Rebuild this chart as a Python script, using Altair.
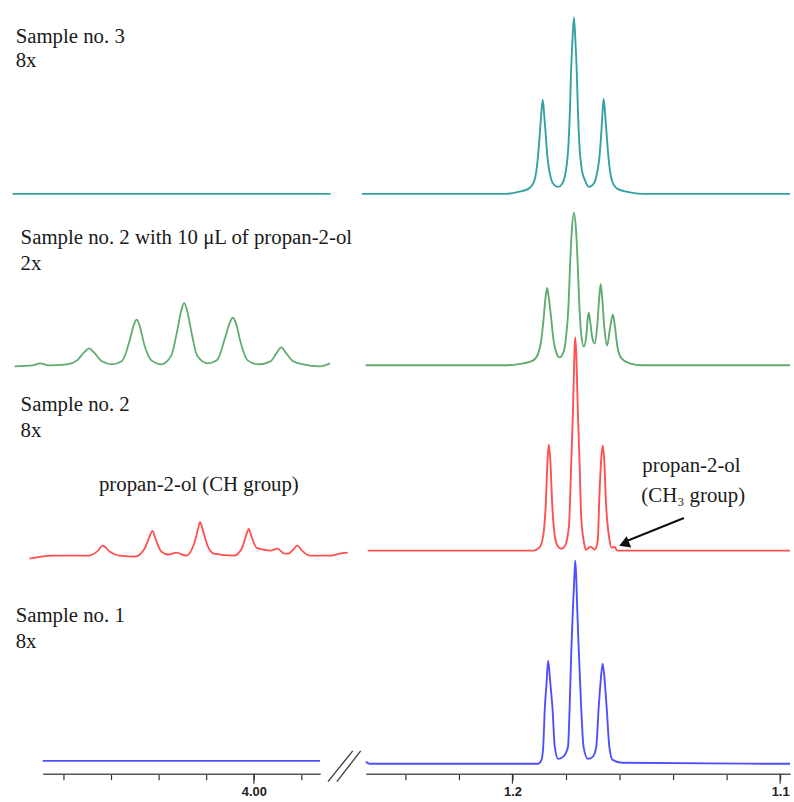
import altair as alt
import pandas as pd

# ---------------- axes (chemical shift, ppm) ----------------
left_domain = [4.0443, 3.9861]
right_domain = [1.2548, 1.0963]
left_ticks = [4.04, 4.03, 4.02, 4.01, 4.00, 3.99]
right_ticks = [1.24, 1.22, 1.20, 1.18, 1.16, 1.14, 1.12, 1.10]
left_major = [4.00]
right_major = [1.20, 1.10]
y_domain = [0, 777]

traces = ["Sample no. 3", "Sample no. 2 + propan-2-ol", "Sample no. 2", "Sample no. 1"]
colors = ["#35a2a2", "#5fab70", "#ff4f4f", "#4f4fff"]
offset_left = [585, 412, 220, 13]
offset_right = [585, 412, 225, 10]

# ---------------- spectra: left window (CH region ~4.0 ppm) ----------------
s3_left_ppm = [4.0506, 3.9839]
s3_left_int = [0, 0]

s2p_left_ppm = [4.05017, 4.04642, 4.04476, 4.04310, 4.03915, 4.03707, 4.03561, 4.03457, 4.03353,
                4.03187, 4.02979, 4.02771, 4.02605, 4.02522, 4.02459, 4.02397, 4.02293, 4.02148,
                4.01940, 4.01732, 4.01607, 4.01524, 4.01462, 4.01399, 4.01316, 4.01191, 4.00963,
                4.00775, 4.00609, 4.00505, 4.00443, 4.00380, 4.00277, 4.00131, 3.99902, 3.99653,
                3.99528, 3.99424, 3.99320, 3.99175, 3.98967, 3.98613, 3.98405]
s2p_left_int = [-1, 0, 2, 0, 1, 5, 13, 17, 13,
                4, 1, 4, 25, 40, 46, 40, 20, 5,
                1, 10, 35, 55, 63, 55, 35, 10, 2,
                5, 27, 43, 48, 43, 23, 5, 1, 4,
                12, 18, 12, 4, 1, -1, 2]

s2_left_ppm = [4.04705, 4.04227, 4.03457, 4.03291, 4.03166, 4.03021, 4.02813, 4.02501, 4.02293,
               4.02189, 4.02127, 4.02064, 4.01940, 4.01794, 4.01628, 4.01420, 4.01254, 4.01170,
               4.01129, 4.01067, 4.00963, 4.00838, 4.00422, 4.00256, 4.00152, 4.00110, 4.00048,
               3.99944, 3.99798, 3.99653, 3.99507, 3.99362, 3.99279, 3.99195, 3.99091, 3.98988,
               3.98821, 3.98405, 3.98198, 3.98031]
s2_left_int = [-3, 0, 0, 4, 10, 4, 0, -1, 7,
               19, 25, 17, 4, 1, 3, 0, 12, 27,
               34, 25, 9, 2, 0, 7, 22, 27, 19,
               8, 6, 5, 7, 2, 2, 5, 10, 5,
               0, 0, 2, 3]

s1_left_ppm = [4.04428, 3.98613]
s1_left_int = [0, 0]

# ---------------- spectra: right window (CH3 region ~1.18 ppm) ----------------
s3_right_ppm = [1.25630, 1.20259, 1.19778, 1.19407, 1.19185, 1.19056, 1.18981, 1.18926, 1.18870,
                1.18815, 1.18759, 1.18685, 1.18556, 1.18444, 1.18296, 1.18148, 1.18000, 1.17907,
                1.17852, 1.17815, 1.17767, 1.17704, 1.17641, 1.17593, 1.17556, 1.17500, 1.17407,
                1.17296, 1.17148, 1.17000, 1.16889, 1.16759, 1.16685, 1.16641, 1.16593, 1.16537,
                1.16481, 1.16407, 1.16278, 1.16074, 1.15704, 1.15148, 1.09630]
s3_right_int = [0, 0, 2, 5, 13, 35, 60, 80, 95,
                80, 60, 35, 15, 9, 7, 10, 24, 50,
                85, 120, 150, 178, 150, 120, 85, 50, 24,
                14, 7, 9, 15, 35, 60, 80, 96, 80,
                60, 35, 13, 5, 2, 0, 0]

s2p_right_ppm = [1.25481, 1.20333, 1.19593, 1.19222, 1.19037, 1.18926, 1.18833, 1.18767, 1.18704,
                 1.18641, 1.18556, 1.18463, 1.18352, 1.18241, 1.18111, 1.18000, 1.17907, 1.17852,
                 1.17785, 1.17704, 1.17622, 1.17556, 1.17500, 1.17426, 1.17333, 1.17241, 1.17185,
                 1.17148, 1.17100, 1.17019, 1.16926, 1.16833, 1.16759, 1.16704, 1.16648, 1.16574,
                 1.16463, 1.16352, 1.16248, 1.16167, 1.16074, 1.15926, 1.15630, 1.15148, 1.09630]
s2p_right_int = [0, 0, 2, 5, 12, 25, 48, 68, 78,
                 68, 48, 25, 12, 8, 12, 28, 60, 98,
                 135, 154, 135, 98, 60, 30, 19, 30, 48,
                 53, 45, 28, 22, 40, 68, 82, 68, 40,
                 20, 38, 51, 38, 18, 7, 2, 0, 0]

s2_right_ppm = [1.25407, 1.19222, 1.19000, 1.18852, 1.18759, 1.18693, 1.18641, 1.18581, 1.18519,
                1.18419, 1.18296, 1.18174, 1.18037, 1.17889, 1.17804, 1.17741, 1.17685, 1.17656,
                1.17619, 1.17556, 1.17493, 1.17433, 1.17333, 1.17259, 1.17085, 1.16926, 1.16815,
                1.16752, 1.16693, 1.16630, 1.16567, 1.16507, 1.16381, 1.16296, 1.16196, 1.16074,
                1.09630]
s2_right_int = [0, 0, 3, 15, 45, 89, 107, 89, 49,
                15, 4, 2, 5, 25, 89, 139, 200, 215,
                200, 139, 89, 35, 9, 1, 4, 1, 10,
                55, 89, 106, 89, 49, 12, 3, 4, 0,
                0]

s1_right_ppm = [1.25481, 1.25333, 1.19037, 1.18915, 1.18852, 1.18789, 1.18730, 1.18667, 1.18581,
                1.18507, 1.18419, 1.18296, 1.18111, 1.17926, 1.17863, 1.17804, 1.17741, 1.17685,
                1.17656, 1.17619, 1.17581, 1.17519, 1.17433, 1.17344, 1.17185, 1.17000, 1.16870,
                1.16778, 1.16715, 1.16630, 1.16544, 1.16481, 1.16381, 1.16259, 1.15889, 1.09630]
s1_right_int = [2, 0, 0, 4, 17, 57, 80, 104, 80,
                57, 17, 5, 7, 17, 57, 112, 157, 190,
                205, 190, 157, 112, 57, 17, 5, 7, 17,
                57, 80, 101, 80, 57, 17, 4, 1, 0]

# ---------------- annotations ----------------
left_labels = ["Sample no. 3", "8x",
               "Sample no. 2 with 10 \u03bcL of propan-2-ol", "2x",
               "Sample no. 2", "8x",
               "propan-2-ol (CH group)",
               "Sample no. 1", "8x"]
left_label_ppm = [4.04996, 4.04996, 4.04892, 4.04892, 4.04892, 4.04892, 4.03249, 4.04996, 4.04996]
left_label_v = [737, 713, 534, 508, 366, 340, 285, 153, 127]

right_labels = ["propan-2-ol", "(CH\u2083 group)"]
right_label_ppm = [1.15148, 1.15185]
right_label_v = [304, 274]

arrow_start = [1.13593, 258]
arrow_end = [1.15800, 234]
arrow_head = [1.15830, 232]

break_ppm = [3.98447, 3.98260]
break_ppm2 = [3.97927, 3.97761]
break_v = [-8, -8]
break_v2 = [23, 23]

# ---------------- build tables ----------------
def trace_table(ppms, ints, offsets):
    rows = []
    for name, pp, ii, off in zip(traces, ppms, ints, offsets):
        for k, (p, iv) in enumerate(zip(pp, ii)):
            rows.append({"trace": name, "ppm": p, "v": off + iv, "i": k})
    return pd.DataFrame(rows)

left_df = trace_table([s3_left_ppm, s2p_left_ppm, s2_left_ppm, s1_left_ppm],
                      [s3_left_int, s2p_left_int, s2_left_int, s1_left_int], offset_left)
right_df = trace_table([s3_right_ppm, s2p_right_ppm, s2_right_ppm, s1_right_ppm],
                       [s3_right_int, s2p_right_int, s2_right_int, s1_right_int], offset_right)

yscale = alt.Scale(domain=y_domain, nice=False, zero=False)
cscale = alt.Scale(domain=traces, range=colors)
serif = "Liberation Serif"


def make_axis(values, expr):
    return alt.Axis(values=values, labelExpr=expr, tickSize=6, tickWidth=1.2, tickColor="#333333",
                    domainColor="#555555", domainWidth=1.6, labelFont="Liberation Sans",
                    labelFontWeight="bold", labelFontSize=13, labelColor="#222222", labelPadding=6,
                    labelFlush=False, labelOverlap=False, grid=False, title=None)


def panel(df, domain, ticks, expr, major, labels, lppm, lv, width, sw, extra=None):
    xs = alt.Scale(domain=domain, nice=False, zero=False)
    ax = make_axis(ticks, expr)
    X = lambda f: alt.X(f, type="quantitative", scale=xs, axis=ax)
    Y = lambda f: alt.Y(f, type="quantitative", scale=yscale, axis=None)
    lines = alt.Chart(df).mark_line(strokeWidth=sw, interpolate="monotone").encode(
        x=X("ppm"), y=Y("v"),
        color=alt.Color("trace:N", scale=cscale, legend=None),
        order=alt.Order("i:Q"))
    mj = pd.DataFrame({"ppm": major, "v": [0] * len(major), "v2": [-10] * len(major)})
    majors = alt.Chart(mj).mark_rule(color="#333333", strokeWidth=1.2).encode(
        x=X("ppm"), y=Y("v"), y2="v2")
    tx = pd.DataFrame({"label": labels, "ppm": lppm, "v": lv})
    texts = alt.Chart(tx).mark_text(align="left", baseline="alphabetic", font=serif,
                                    fontSize=21, color="#1a1a1a").encode(
        x=X("ppm"), y=Y("v"), text="label:N")
    layers = [lines, majors, texts]
    if extra:
        layers += extra(X, Y)
    return alt.layer(*layers).properties(width=width, height=777)


def left_extra(X, Y):
    br = pd.DataFrame({"ppm": break_ppm, "ppm2": break_ppm2, "v": break_v, "v2": break_v2})
    return [alt.Chart(br).mark_rule(color="#444444", strokeWidth=1.4).encode(
        x=X("ppm"), x2="ppm2", y=Y("v"), y2="v2")]


def right_extra(X, Y):
    ar = pd.DataFrame({"ppm": [arrow_start[0]], "ppm2": [arrow_end[0]],
                       "v": [arrow_start[1]], "v2": [arrow_end[1]]})
    shaft = alt.Chart(ar).mark_rule(color="#111111", strokeWidth=2).encode(
        x=X("ppm"), x2="ppm2", y=Y("v"), y2="v2")
    hd = pd.DataFrame({"ppm": [arrow_head[0]], "v": [arrow_head[1]]})
    head = alt.Chart(hd).mark_point(shape="triangle-up", filled=True, size=150, angle=248,
                                    color="#111111", opacity=1).encode(x=X("ppm"), y=Y("v"))
    return [shaft, head]


left = panel(left_df, left_domain, left_ticks,
             "abs(datum.value-4)<0.0001 ? '4.00' : ''",
             left_major, left_labels, left_label_ppm, left_label_v, 280, 1.8, left_extra)
right = panel(right_df, right_domain, right_ticks,
              "abs(datum.value-1.2)<0.0001 ? '1.2' : (abs(datum.value-1.1)<0.0001 ? '1.1' : '')",
              right_major, right_labels, right_label_ppm, right_label_v, 428, 1.9, right_extra)

chart = alt.hconcat(left, right, spacing=46, bounds="flush").properties(
    padding={"left": 9, "top": 0, "right": 0, "bottom": 0},
    background="white"
).configure_view(strokeWidth=0, stroke="transparent")

chart.save("out.html", embed_options={"renderer": "svg", "actions": False})
